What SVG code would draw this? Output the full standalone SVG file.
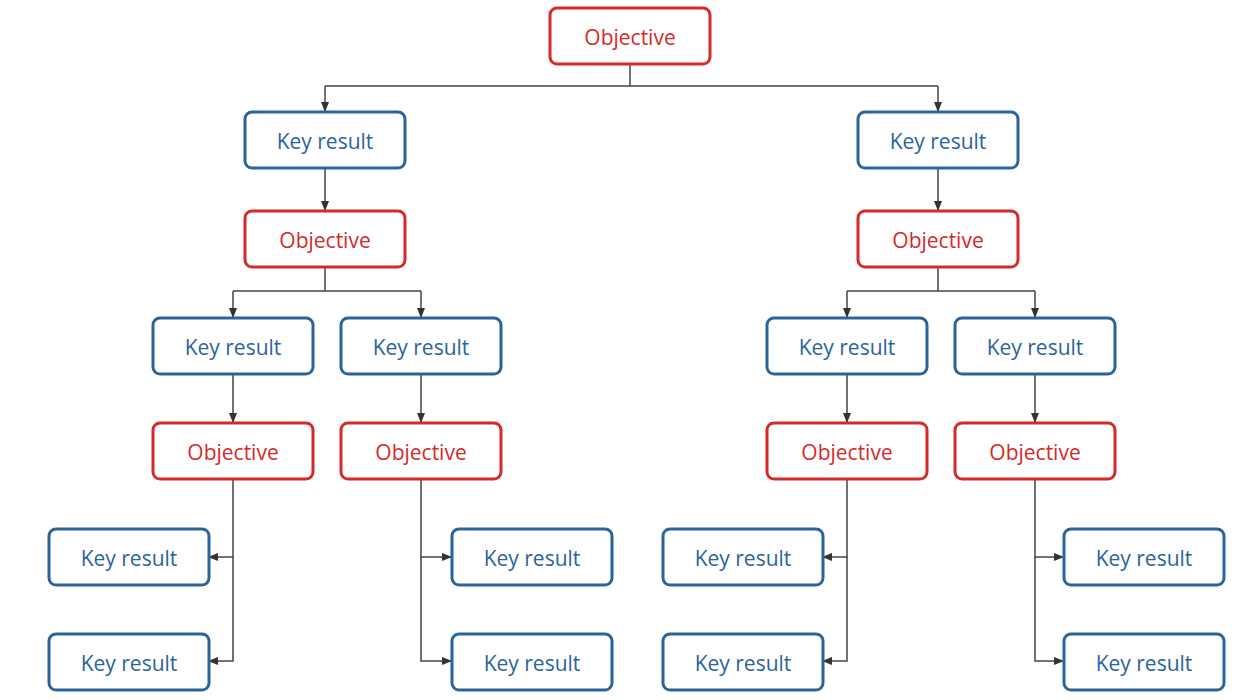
<svg xmlns="http://www.w3.org/2000/svg" width="1251" height="700" viewBox="0 0 1251 700">
<defs>
<marker id="a" viewBox="0 0 10 10" refX="9" refY="5" markerWidth="7" markerHeight="7" orient="auto"><path d="M0,1 L10,5 L0,9 z" fill="#333"/></marker>
<style>
.o rect{fill:#fff;stroke:#d42a2a;stroke-width:3}
.o text{fill:#d42a2a}
.k rect{fill:#fff;stroke:#2b6499;stroke-width:3}
.k text{fill:#2b6499}
text{font-family:"Open Sans","DejaVu Sans",sans-serif;font-size:21px;text-anchor:middle;dominant-baseline:central}
.c path{fill:none;stroke:#444;stroke-width:1.5}
</style>
</defs>
<rect width="1251" height="700" fill="#fff"/>
<g class="c">
<path d="M630,64 V86 M325,86 H938" />
<path d="M325,86 V111" marker-end="url(#a)"/>
<path d="M938,86 V111" marker-end="url(#a)"/>
<path d="M325,168 V210" marker-end="url(#a)"/>
<path d="M938,168 V210" marker-end="url(#a)"/>
<path d="M325,267 V291 M233,291 H421 M847,291 H1035 M938,267 V291"/>
<path d="M233,291 V317" marker-end="url(#a)"/>
<path d="M421,291 V317" marker-end="url(#a)"/>
<path d="M847,291 V317" marker-end="url(#a)"/>
<path d="M1035,291 V317" marker-end="url(#a)"/>
<path d="M233,374 V422" marker-end="url(#a)"/>
<path d="M421,374 V422" marker-end="url(#a)"/>
<path d="M847,374 V422" marker-end="url(#a)"/>
<path d="M1035,374 V422" marker-end="url(#a)"/>
<path d="M233,479 V557 H209" marker-end="url(#a)"/>
<path d="M233,557 V661 H209" marker-end="url(#a)"/>
<path d="M421,479 V557 H451" marker-end="url(#a)"/>
<path d="M421,557 V661 H451" marker-end="url(#a)"/>
<path d="M847,479 V557 H823" marker-end="url(#a)"/>
<path d="M847,557 V661 H823" marker-end="url(#a)"/>
<path d="M1035,479 V557 H1063" marker-end="url(#a)"/>
<path d="M1035,557 V661 H1063" marker-end="url(#a)"/>
</g>
<g id="o0" class="o"><rect x="550" y="8" width="160" height="56" rx="7"/><text x="630" y="37">Objective</text></g>
<g id="k1" class="k"><rect x="245" y="112" width="160" height="56" rx="7"/><text x="325" y="141">Key result</text></g>
<g id="k2" class="k"><rect x="858" y="112" width="160" height="56" rx="7"/><text x="938" y="141">Key result</text></g>
<g id="o1" class="o"><rect x="245" y="211" width="160" height="56" rx="7"/><text x="325" y="240">Objective</text></g>
<g id="o2" class="o"><rect x="858" y="211" width="160" height="56" rx="7"/><text x="938" y="240">Objective</text></g>
<g id="k3" class="k"><rect x="153" y="318" width="160" height="56" rx="7"/><text x="233" y="347">Key result</text></g>
<g id="k4" class="k"><rect x="341" y="318" width="160" height="56" rx="7"/><text x="421" y="347">Key result</text></g>
<g id="k5" class="k"><rect x="767" y="318" width="160" height="56" rx="7"/><text x="847" y="347">Key result</text></g>
<g id="k6" class="k"><rect x="955" y="318" width="160" height="56" rx="7"/><text x="1035" y="347">Key result</text></g>
<g id="o3" class="o"><rect x="153" y="423" width="160" height="56" rx="7"/><text x="233" y="452">Objective</text></g>
<g id="o4" class="o"><rect x="341" y="423" width="160" height="56" rx="7"/><text x="421" y="452">Objective</text></g>
<g id="o5" class="o"><rect x="767" y="423" width="160" height="56" rx="7"/><text x="847" y="452">Objective</text></g>
<g id="o6" class="o"><rect x="955" y="423" width="160" height="56" rx="7"/><text x="1035" y="452">Objective</text></g>
<g id="k7" class="k"><rect x="49" y="529" width="160" height="56" rx="7"/><text x="129" y="558">Key result</text></g>
<g id="k8" class="k"><rect x="49" y="634" width="160" height="56" rx="7"/><text x="129" y="663">Key result</text></g>
<g id="k9" class="k"><rect x="452" y="529" width="160" height="56" rx="7"/><text x="532" y="558">Key result</text></g>
<g id="k10" class="k"><rect x="452" y="634" width="160" height="56" rx="7"/><text x="532" y="663">Key result</text></g>
<g id="k11" class="k"><rect x="663" y="529" width="160" height="56" rx="7"/><text x="743" y="558">Key result</text></g>
<g id="k12" class="k"><rect x="663" y="634" width="160" height="56" rx="7"/><text x="743" y="663">Key result</text></g>
<g id="k13" class="k"><rect x="1064" y="529" width="160" height="56" rx="7"/><text x="1144" y="558">Key result</text></g>
<g id="k14" class="k"><rect x="1064" y="634" width="160" height="56" rx="7"/><text x="1144" y="663">Key result</text></g>
</svg>
